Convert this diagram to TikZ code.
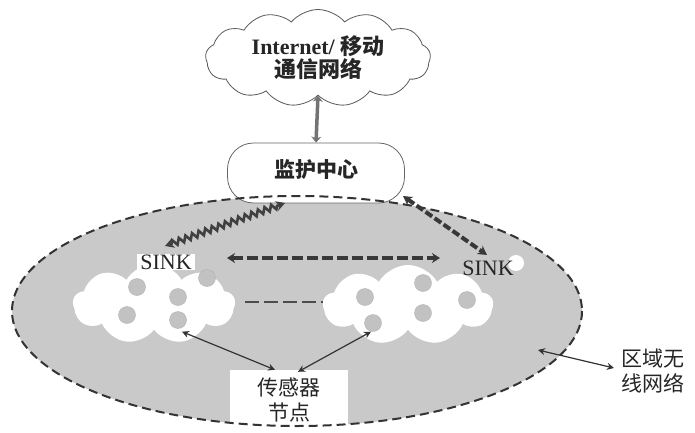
\documentclass[tikz,border=0pt]{standalone}
\usepackage{fontspec}
\setmainfont{Liberation Serif}
\newfontfamily\cjk{Noto Sans CJK SC}
\usetikzlibrary{shapes.symbols,shapes.geometric,decorations.pathmorphing,arrows.meta,calc}
\begin{document}
\begin{tikzpicture}[x=1pt,y=-1pt,
  lbl/.style={font=\fontsize{22}{25}\selectfont, align=center, inner sep=0pt, text=black!85},
  cjklbl/.style={lbl, font=\fontsize{21}{25}\selectfont\cjk},
  dot/.style={circle, fill=black!24, draw=black!30, minimum size=17pt, inner sep=0pt},
  scloud/.style={cloud, cloud puffs=9, cloud puff arc=120, fill=white, draw=none, inner sep=0pt},
  tip/.style={>={Stealth[length=7pt,width=7pt]}},
  thinarrow/.style={<->, tip, line width=1.2pt, draw=black!80},
  regionfill/.style={fill=black!21},
  regionborder/.style={draw=black!80, line width=2pt, dash pattern=on 9pt off 5pt},
]
\useasboundingbox (0,0) rectangle (695,433);

% region ellipse
\node[ellipse, regionfill, minimum width=570pt, minimum height=230pt, inner sep=0pt] (reg) at (297,311) {};

% top cloud
\node[cloud, cloud puffs=13, cloud puff arc=100, aspect=2.3, minimum width=225pt, minimum height=97pt,
      fill=white, draw=black!65, line width=0.8pt, inner sep=0pt] (inet) at (318,58) {};
\node[lbl, font=\fontsize{22}{23}\selectfont\bfseries] (inettxt) at (318,58) {Internet/ {\cjk 移动}\\{\cjk 通信网络}};

% monitoring centre
\node[draw=black!60, fill=white, rounded corners=26pt, minimum width=177pt, minimum height=60pt, line width=0.8pt] (mon) at (316,173) {};
\node[cjklbl, font=\fontsize{21}{25}\selectfont\cjk\bfseries] (montxt) at (316,170) {监护中心};

\draw[<->, >={Stealth[length=6pt,width=10pt]}, line width=3.5pt, draw=black!55] (inet.south) -- (mon.north);

% sensor clouds
\node[scloud, aspect=2.1, minimum width=162pt, minimum height=80pt] (cL) at (154,304) {};
\node[scloud, aspect=2.1, minimum width=170pt, minimum height=80pt] (cR) at (408,305) {};

\foreach \n/\p in {l1/{(137,287)}, l2/{(207,278)}, l3/{(178,297)}, l4/{(127,315)}, l5/{(178,320)},
                   r1/{(423,283)}, r2/{(365,297)}, r3/{(467,300)}, r4/{(423,313)}, r5/{(373,323)}}
  \node[dot] (\n) at \p {};

% SINK labels
\node[lbl, fill=white, inner xsep=3pt, inner ysep=1pt] (sinkL) at (166,262) {SINK};
\node[circle, fill=white, minimum size=16pt, inner sep=0pt] (bub) at (516,263) {};
\node[lbl] (sinkR) at (488,268) {SINK};

% sensor box
\node[fill=white, minimum width=118pt, minimum height=56pt, inner sep=0pt] (sens) at (289,398) {};
\node[cjklbl] (senstxt) at (289,400) {传感器\\节点};

% region border
\draw[regionborder] (reg.center) ellipse [x radius=285, y radius=115];

% wavy link left SINK <-> centre
\coordinate (wL) at (165,246);
\coordinate (wR) at (285,203);
\draw[<->, >={Stealth[length=9pt,width=10pt]}, line width=2.6pt, draw=black!75,
      decorate, decoration={zigzag, segment length=7pt, amplitude=3pt, pre length=7pt, post length=7pt}] (wL) -- (wR);

% dashed link centre <-> right SINK
\coordinate (dA) at (403,196);
\coordinate (dB) at (487,255);
\draw[<->, >={Stealth[length=9pt,width=10pt]}, line width=4pt, draw=black!78, dash pattern=on 8pt off 3pt] (dA) -- (dB);

% horizontal SINK <-> SINK
\coordinate (hA) at (227,258);
\coordinate (hB) at (440,258);
\draw[<->, >={Stealth[length=8pt,width=10pt]}, line width=4.5pt, draw=black!78, dash pattern=on 11pt off 4pt] (hA) -- (hB);

% ellipsis dashes
\coordinate (eA) at (245,302);
\coordinate (eB) at (323,302);
\draw[line width=2.4pt, draw=black!70, dash pattern=on 14pt off 5pt] (eA) -- (eB);

% sensor arrows
\draw[thinarrow] ($(sens.north)+(-14,0)$) -- ($(l5.south)+(4,3)$);
\draw[thinarrow] ($(sens.north)+(9,2)$) -- ($(r5.south)+(-2,0)$);

% region label
\node[cjklbl, anchor=west] (regtxt) at (621,371) {区域无\\线网络};
\coordinate (regpt) at (538,350);
\draw[thinarrow] (regpt) -- ($(regtxt.west)+(-7,-3)$);
\end{tikzpicture}
\end{document}
